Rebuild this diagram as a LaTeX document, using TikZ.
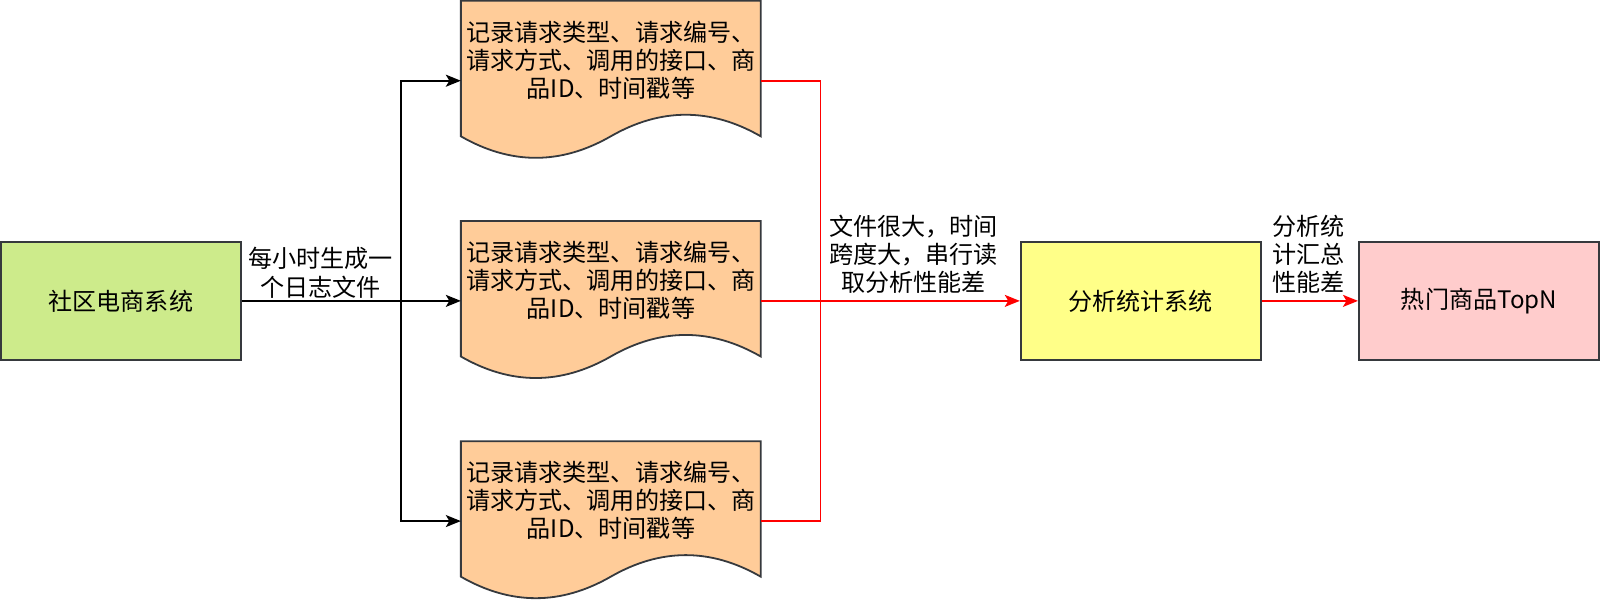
\documentclass[tikz,border=0pt]{standalone}
\usepackage{fontspec}
\setmainfont{Noto Sans CJK SC}
\usetikzlibrary{arrows.meta,calc}
\definecolor{cgreen}{HTML}{CDEB8B}
\definecolor{cdoc}{HTML}{FFCC99}
\definecolor{cyel}{HTML}{FFFF88}
\definecolor{cpink}{HTML}{FFCCCC}
\definecolor{cstroke}{HTML}{36393D}
\definecolor{cred}{HTML}{FF0000}
\tikzset{
  box/.style={draw=cstroke, line width=1.8pt, minimum height=116*1.02171pt, inner sep=0pt, align=center},
  docbox/.style={minimum width=293.5*1.02171pt, minimum height=156*1.02171pt, inner sep=0pt},
  docsty/.style={draw=cstroke, fill=cdoc, line width=1.8pt},
  doctext/.style={align=center, inner sep=0pt},
  lbl/.style={align=center, inner sep=0pt, fill=white},
  blk/.style={draw=black, line width=1.8pt, -{Stealth[length=15pt,width=12pt,inset=3.5pt]}},
  blkline/.style={draw=black, line width=1.8pt},
  redline/.style={draw=cred, line width=1.8pt},
  redarrow/.style={draw=cred, line width=1.8pt, -{Stealth[length=15pt,width=12pt,inset=3.5pt]}},
}
\newcommand{\logdoc}[1]{%
  \begin{scope}[shift={(#1.north west)}]
    \path[docsty] (0,0) -- (293.5,0) -- (293.5,132.6)
      .. controls (244.6,104.5) and (195.7,104.5) .. (146.75,132.6)
      .. controls (97.8,160.7) and (48.9,160.7) .. (0,132.6) -- cycle;
  \end{scope}}
\begin{document}
\begin{tikzpicture}[x=1.02171pt,y=-1.02171pt,font=\fontsize{24.1}{28.1}\selectfont]
\useasboundingbox (0,0) rectangle (1566,589.2);
\node[box, fill=cgreen, minimum width=234.6*1.02171pt] (g) at (118.3,294.5) {社区电商系统};
\node[docbox] (d1) at (598,79) {};
\node[docbox] (d2) at (598,294.5) {};
\node[docbox] (d3) at (598,510) {};
\foreach \d in {d1,d2,d3}{\logdoc{\d}}
\foreach \d in {d1,d2,d3}{
  \node[doctext] (\d t) at ($(\d.center)+(0,-20)$) {记录请求类型、请求编号、\\请求方式、调用的接口、商\\品ID、时间戳等};
}
\node[box, fill=cyel, minimum width=235*1.02171pt] (s) at (1116.5,294.5) {分析统计系统};
\node[box, fill=cpink, minimum width=235*1.02171pt] (p) at (1447.5,294.5) {热门商品TopN};
\coordinate (j) at (392.5,294.5);
\coordinate (r) at (803,294.5);
\draw[blkline] (g.east) -- (j);
\draw[blk] (j) |- (d1.west);
\draw[blk] (j) -- (d2.west);
\draw[blk] (j) |- (d3.west);
\draw[redline] (d1.east) -| (r);
\draw[redline] (d3.east) -| (r);
\draw[redarrow] (d2.east) -- (s.west);
\draw[redarrow] (s.east) -- (p.west);
\node[lbl] (l1) at (313.5,267) {每小时生成一\\个日志文件};
\node[lbl] (l2) at (894,248.5) {文件很大，时间\\跨度大，串行读\\取分析性能差};
\node[lbl] (l3) at (1281,248.5) {分析统\\计汇总\\性能差};
\end{tikzpicture}
\end{document}
